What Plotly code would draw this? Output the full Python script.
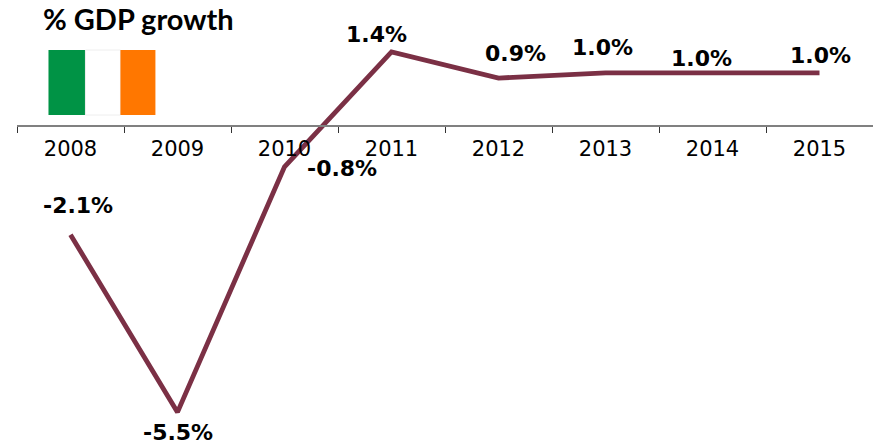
import plotly.graph_objects as go

years = ["2008", "2009", "2010", "2011", "2012", "2013", "2014", "2015"]
growth = [-2.1, -5.5, -0.8, 1.4, 0.9, 1.0, 1.0, 1.0]

# Pixel nudges for each value label, relative to its point
label_dx = [7, 0, 57, -15, 17, -3, -11, 1]
label_dy = [29, -20, -2, 17, 25, 25, 14, 17]

WIDTH, HEIGHT = 873, 444
LEFT = 16.5
LINE = "#7B3045"


def paper_x(px):
    return (px - LEFT) / (WIDTH - LEFT)


def paper_y(px):
    return 1 - px / HEIGHT


fig = go.Figure(
    go.Scatter(
        x=years,
        y=growth,
        mode="lines",
        line=dict(color=LINE, width=4.8),
        hoverinfo="skip",
    )
)

# Category axes accept a position index, which keeps year strings from being read as numbers
for index, (value, dx, dy) in enumerate(zip(growth, label_dx, label_dy)):
    fig.add_annotation(
        x=index,
        y=value,
        xref="x",
        yref="y",
        text=f"<b>{value:.1f}%</b>",
        showarrow=False,
        xshift=dx,
        yshift=dy,
        font=dict(family="DejaVu Sans", size=22, color="#000000"),
    )

fig.add_annotation(
    x=paper_x(41),
    y=paper_y(18),
    xref="paper",
    yref="paper",
    xanchor="left",
    yanchor="middle",
    text="<b>% GDP growth</b>",
    showarrow=False,
    font=dict(family="Lato", size=29, color="#000000"),
)

# Irish tricolour below the title
flag_bands = [
    (48, 85, "#009345", 0),
    (85, 120, "#FFFFFF", 1),
    (120, 155, "#FF7700", 0),
]
for left, right, colour, edge in flag_bands:
    fig.add_shape(
        type="rect",
        xref="paper",
        yref="paper",
        x0=paper_x(left),
        x1=paper_x(right),
        y0=paper_y(115),
        y1=paper_y(50),
        fillcolor=colour,
        line=dict(color="#EEEEEE", width=edge),
    )

fig.update_layout(
    width=WIDTH,
    height=HEIGHT,
    margin=dict(l=LEFT, r=0, t=0, b=0),
    paper_bgcolor="#FFFFFF",
    plot_bgcolor="#FFFFFF",
    showlegend=False,
    xaxis=dict(
        type="category",
        range=[-0.5, 7.5],
        anchor="free",
        position=paper_y(125.5),
        tickson="boundaries",
        ticks="outside",
        ticklen=6,
        tickwidth=1,
        tickcolor="#333333",
        ticklabelstandoff=4,
        showline=True,
        linecolor="#808080",
        linewidth=2,
        showgrid=False,
        zeroline=False,
        tickfont=dict(family="DejaVu Sans", size=21, color="#000000"),
    ),
    yaxis=dict(
        range=[-6.11, 2.395],
        visible=False,
        showgrid=False,
        zeroline=False,
    ),
)

fig.write_html("out.html", config=dict(displayModeBar=False))
